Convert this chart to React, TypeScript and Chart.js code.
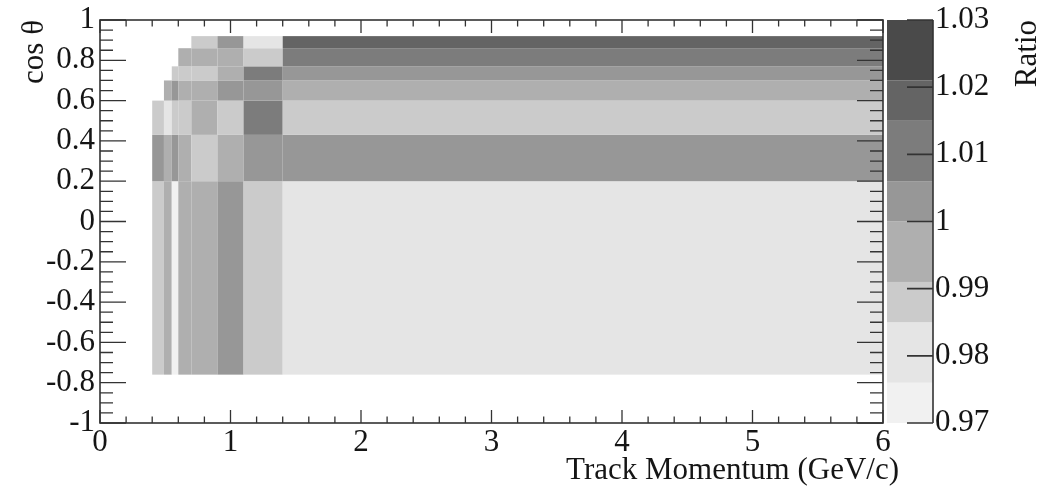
import React, { useEffect, useRef } from 'react';
import { Chart, registerables } from 'chart.js';

Chart.register(...registerables);

// ---- Data ----
const momentumEdges = [0.4, 0.49, 0.55, 0.6, 0.7, 0.9, 1.1, 1.4, 6.0];
const cosThetaEdges = [-0.76, 0.2, 0.43, 0.6, 0.7, 0.77, 0.86, 0.92];

// Ratio per cos(theta) bin (bottom to top); one value per momentum bin, null = empty
const ratioCosBin0 = [0.988, 0.995, 0.973, 0.995, 0.995, 1.003, 0.988, 0.980];
const ratioCosBin1 = [1.003, 0.995, 1.003, 0.995, 0.988, 0.995, 1.003, 1.003];
const ratioCosBin2 = [0.988, 0.980, 0.988, 0.988, 0.995, 0.988, 1.010, 0.988];
const ratioCosBin3 = [null, 0.995, 1.003, 0.995, 0.995, 1.003, 1.003, 0.995];
const ratioCosBin4 = [null, null, 0.988, 0.988, 0.988, 0.995, 1.010, 1.003];
const ratioCosBin5 = [null, null, null, 0.995, 0.995, 0.995, 0.988, 1.010];
const ratioCosBin6 = [null, null, null, null, 0.988, 1.003, 0.980, 1.018];
const ratioRows: (number | null)[][] = [
  ratioCosBin0, ratioCosBin1, ratioCosBin2, ratioCosBin3, ratioCosBin4, ratioCosBin5, ratioCosBin6,
];

const contourLevels = [0.97, 0.976, 0.985, 0.991, 1.0, 1.006, 1.015, 1.021, 1.03];
const momentumTicks = [0, 1, 2, 3, 4, 5, 6];
const cosThetaTicks = [-1, -0.8, -0.6, -0.4, -0.2, 0, 0.2, 0.4, 0.6, 0.8, 1];
const ratioTicks = [0.97, 0.98, 0.99, 1.0, 1.01, 1.02, 1.03];

// ---- Styles ----
const shades = ['#f1f1f1', '#e5e5e5', '#cbcbcb', '#afafaf', '#979797', '#7c7c7c', '#646464', '#4a4a4a'];
const FONT_FAMILY = '"Liberation Serif", "Times New Roman", serif';
const FONT_SIZE = 31;
const TEXT_COLOR = '#151515';
const LINE_COLOR = '#333333';

function shadeFor(v: number): string {
  for (let i = 0; i < contourLevels.length - 1; i++) {
    if (v >= contourLevels[i] && v < contourLevels[i + 1]) return shades[i];
  }
  return v < contourLevels[0] ? shades[0] : shades[shades.length - 1];
}

const heatmapPlugin = {
  id: 'heatmap',
  beforeDatasetsDraw(chart: any) {
    const { ctx, scales } = chart;
    const x = scales.x, y = scales.y;
    ctx.save();
    ratioRows.forEach((row, r) => {
      row.forEach((v, c) => {
        if (v == null) return;
        const x0 = x.getPixelForValue(momentumEdges[c]);
        const x1 = x.getPixelForValue(momentumEdges[c + 1]);
        const y0 = y.getPixelForValue(cosThetaEdges[r + 1]);
        const y1 = y.getPixelForValue(cosThetaEdges[r]);
        ctx.fillStyle = shadeFor(v);
        ctx.fillRect(x0, y0, x1 - x0, y1 - y0);
      });
    });
    ctx.restore();
  },
  afterDraw(chart: any) {
    const { ctx, chartArea, scales } = chart;
    const { left, right, top, bottom } = chartArea;
    const x = scales.x, y = scales.y, z = scales.z;
    ctx.save();
    ctx.strokeStyle = LINE_COLOR;
    ctx.lineWidth = 1.6;
    // frame
    ctx.strokeRect(left, top, right - left, bottom - top);
    // x ticks (bottom and top)
    ctx.lineWidth = 1.3;
    ctx.beginPath();
    for (let i = 0; i <= 30; i++) {
      const p = i * 0.2;
      const px = x.getPixelForValue(p);
      const len = i % 5 === 0 ? 13 : 6.5;
      ctx.moveTo(px, bottom); ctx.lineTo(px, bottom - len);
      ctx.moveTo(px, top); ctx.lineTo(px, top + len);
    }
    // y ticks (left and right)
    for (let i = 0; i <= 40; i++) {
      const c = -1 + i * 0.05;
      const py = y.getPixelForValue(c);
      const len = i % 4 === 0 ? 26 : 13;
      ctx.moveTo(left, py); ctx.lineTo(left + len, py);
      ctx.moveTo(right, py); ctx.lineTo(right - len, py);
    }
    ctx.stroke();

    // colour bar
    const cbL = right + 4, cbR = right + 50;
    for (let i = 0; i < shades.length; i++) {
      const yTop = z.getPixelForValue(contourLevels[i + 1]);
      const yBot = z.getPixelForValue(contourLevels[i]);
      ctx.fillStyle = shades[i];
      ctx.fillRect(cbL, yTop, cbR - cbL, yBot - yTop);
    }
    ctx.lineWidth = 1.6;
    ctx.beginPath();
    ctx.moveTo(cbR, z.top); ctx.lineTo(cbR, z.bottom);
    ratioTicks.forEach((t) => {
      const py = z.getPixelForValue(t);
      ctx.moveTo(cbR, py); ctx.lineTo(cbR - 26, py);
    });
    ctx.stroke();

    // titles
    ctx.fillStyle = TEXT_COLOR;
    ctx.font = `${FONT_SIZE}px ${FONT_FAMILY}`;
    ctx.textAlign = 'right';
    ctx.textBaseline = 'alphabetic';
    ctx.fillText('Track Momentum (GeV/c)', right + 16, 479);

    ctx.save();
    ctx.translate(43, top);
    ctx.rotate(-Math.PI / 2);
    ctx.textAlign = 'right';
    ctx.fillText('cos \u03b8', 0, 0);
    ctx.restore();

    ctx.save();
    ctx.translate(1036, top);
    ctx.rotate(-Math.PI / 2);
    ctx.textAlign = 'right';
    ctx.fillText('Ratio', 0, 0);
    ctx.restore();
    ctx.restore();
  },
};

const tickFont = { family: FONT_FAMILY, size: FONT_SIZE };
const hiddenTickGrid = (len: number) => ({
  display: true,
  drawOnChartArea: false,
  drawTicks: true,
  tickLength: len,
  tickColor: 'rgba(0,0,0,0)',
  color: 'rgba(0,0,0,0)',
});

export default function App() {
  const ref = useRef<HTMLCanvasElement>(null);
  useEffect(() => {
    const chart = new Chart(ref.current as HTMLCanvasElement, {
      type: 'scatter',
      data: { datasets: [{ data: [] }] },
      plugins: [heatmapPlugin],
      options: {
        animation: false,
        responsive: false,
        layout: { padding: { top: 20, left: 0, right: 0, bottom: 0 } },
        plugins: { legend: { display: false }, tooltip: { enabled: false } },
        scales: {
          x: {
            type: 'linear',
            position: 'bottom',
            min: 0,
            max: 6,
            grid: hiddenTickGrid(1),
            border: { display: false },
            afterBuildTicks: (s: any) => { s.ticks = momentumTicks.map((v) => ({ value: v })); },
            afterFit: (s: any) => { s.height = 65; },
            ticks: {
              autoSkip: false, maxRotation: 0, padding: 0, color: TEXT_COLOR, font: tickFont,
              callback: (v: any) => String(Math.round(Number(v))),
            },
          },
          y: {
            type: 'linear',
            position: 'left',
            min: -1,
            max: 1,
            grid: hiddenTickGrid(5),
            border: { display: false },
            afterBuildTicks: (s: any) => { s.ticks = cosThetaTicks.map((v) => ({ value: v })); },
            afterFit: (s: any) => { s.width = 100; },
            ticks: {
              autoSkip: false, padding: 0, color: TEXT_COLOR, font: tickFont,
              callback: (v: any) => {
                const r = Math.round(Number(v) * 10) / 10;
                return r === 0 ? '0' : String(r);
              },
            },
          },
          z: {
            type: 'linear',
            axis: 'y',
            position: 'right',
            min: 0.97,
            max: 1.03,
            grid: hiddenTickGrid(52),
            border: { display: false },
            afterBuildTicks: (s: any) => { s.ticks = ratioTicks.map((v) => ({ value: v })); },
            afterFit: (s: any) => { s.width = 169; },
            ticks: {
              autoSkip: false, padding: 0, color: TEXT_COLOR, font: tickFont,
              callback: (v: any) => String(Math.round(Number(v) * 100) / 100),
            },
          },
        },
      } as any,
    });
    return () => chart.destroy();
  }, []);
  return (
    <canvas
      ref={ref}
      width={1052}
      height={488}
      style={{ position: 'fixed', left: 0, top: 0, width: 1052, height: 488 }}
    />
  );
}
